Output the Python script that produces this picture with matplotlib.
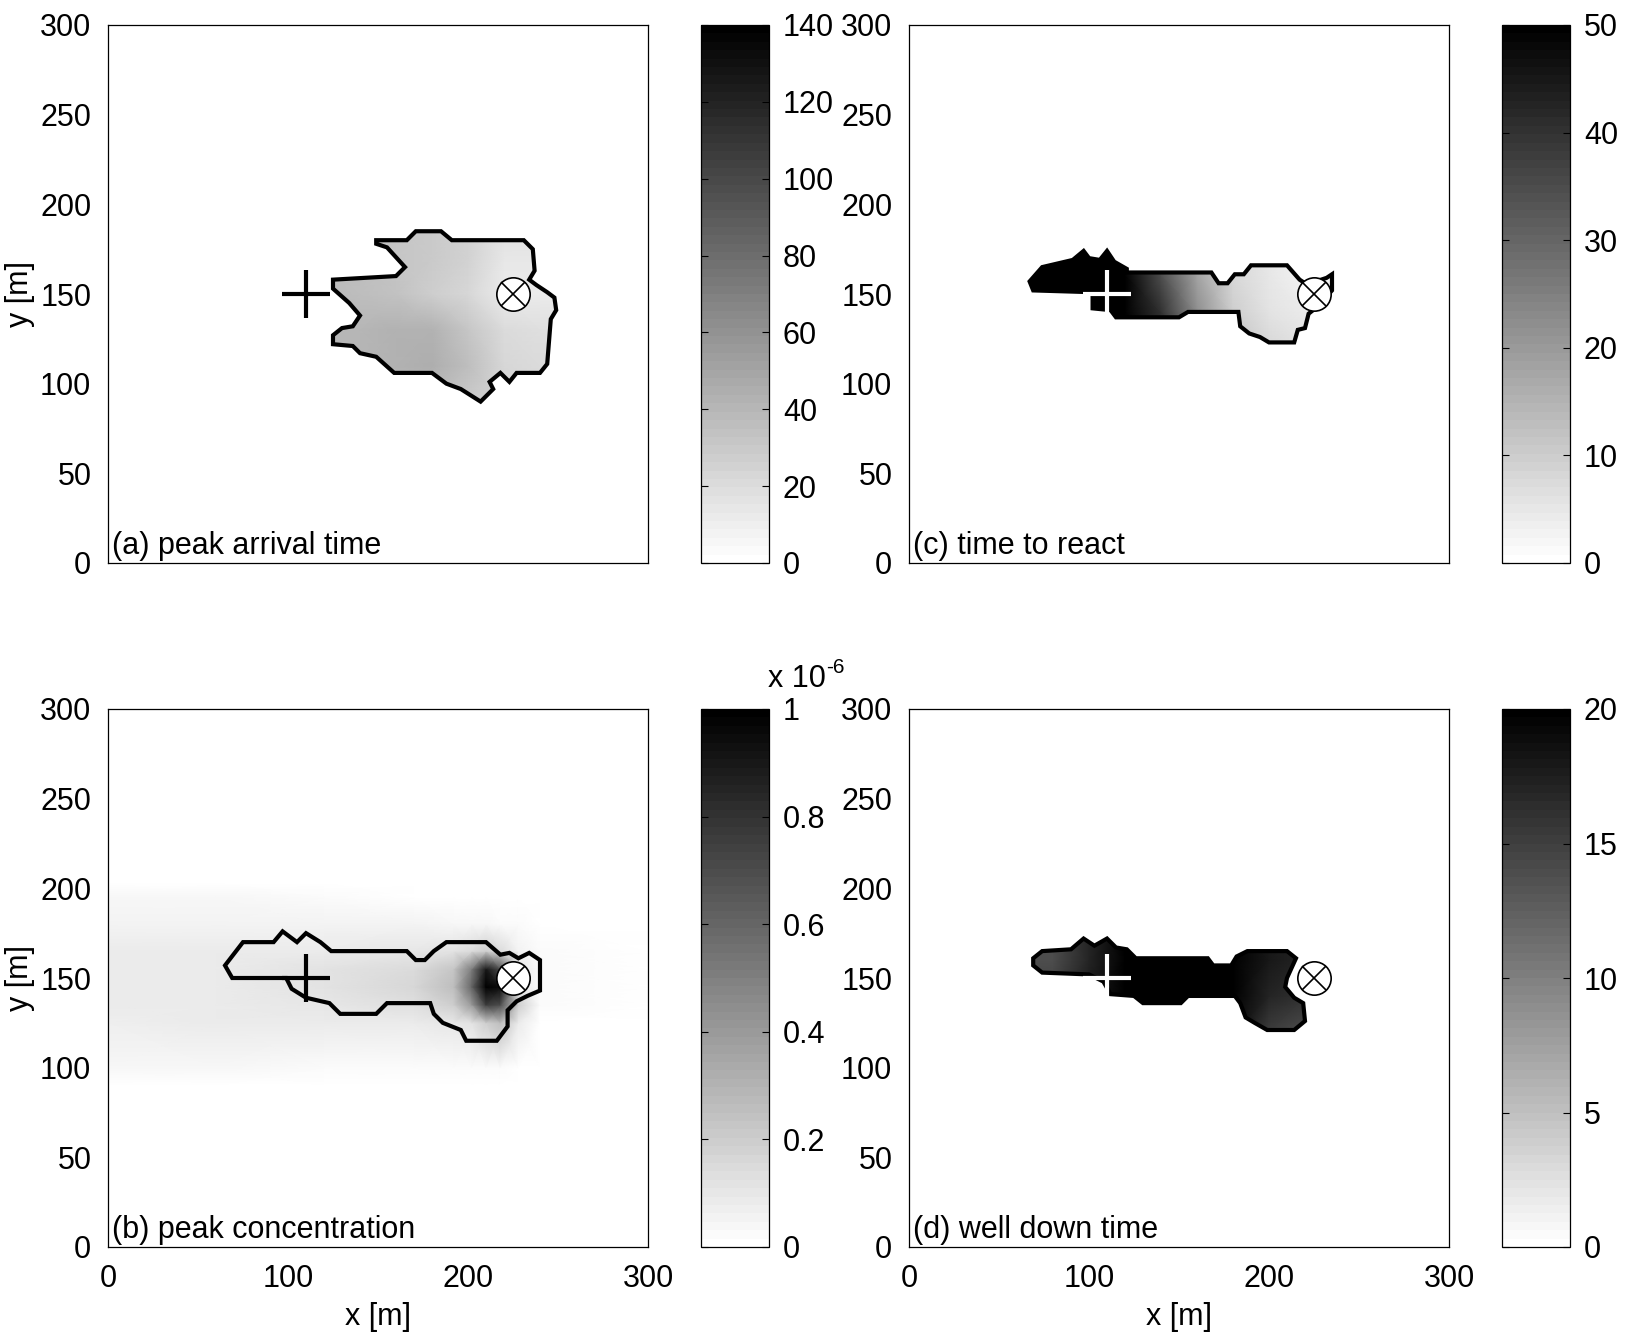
import matplotlib
matplotlib.use("Agg")
import matplotlib.pyplot as plt
import numpy as np
from matplotlib.patches import Polygon

plt.rcParams['font.family'] = ['Liberation Sans', 'DejaVu Sans']

# pumping well and monitoring point (m)
well_xy = (225, 150)
monitor_xy = (110, 150)

# ---- (a) peak arrival time ----
a_x = [120, 140, 160, 180, 200, 220, 240, 260]
a_y = [90, 110, 130, 150, 170, 190]
a_val = [
    [40, 40, 40, 35, 30, 25, 20, 20],
    [40, 40, 42, 45, 35, 22, 20, 20],
    [40, 40, 42, 42, 32, 20, 18, 18],
    [38, 36, 34, 28, 22, 12, 12, 12],
    [36, 35, 32, 30, 25, 15, 15, 15],
    [36, 35, 32, 30, 25, 18, 18, 18],
]
a_outline = [(149, 180), (166, 180), (171, 185), (185, 185), (191, 180), (231, 180),
             (236, 175), (237, 163), (234, 158), (238, 155), (244, 151), (248, 148),
             (249, 141), (246, 136), (244, 111), (240, 106), (227, 106), (223, 101),
             (218, 106), (212, 101), (214, 97), (207, 90), (196, 97), (188, 100),
             (180, 106), (159, 106), (149, 115), (140, 117), (136, 121), (125, 122),
             (125, 127), (130, 131), (136, 132), (140, 138), (134, 145), (125, 153),
             (125, 158), (160, 160), (165, 165), (155, 176), (149, 178)]

# ---- (b) peak concentration (x 1e-6) ----
b_x = [0, 60, 120, 170, 192, 202, 210, 218, 228, 240, 300]
b_y = [0, 90, 100, 125, 135, 145, 155, 165, 180, 195, 203, 300]
b_val = [
    [0, 0, 0, 0, 0, 0, 0, 0, 0, 0, 0],
    [0, 0, 0, 0, 0, 0, 0, 0, 0, 0, 0],
    [0.04, 0.04, 0.03, 0.02, 0.02, 0.02, 0.02, 0.02, 0.01, 0, 0],
    [0.07, 0.08, 0.08, 0.08, 0.10, 0.12, 0.20, 0.25, 0.08, 0.01, 0],
    [0.08, 0.09, 0.10, 0.14, 0.20, 0.40, 0.75, 0.70, 0.20, 0.02, 0],
    [0.08, 0.09, 0.11, 0.16, 0.25, 0.60, 1.00, 0.95, 0.10, 0.02, 0],
    [0.08, 0.09, 0.11, 0.15, 0.22, 0.50, 0.90, 0.70, 0.10, 0.02, 0],
    [0.08, 0.08, 0.09, 0.10, 0.12, 0.15, 0.20, 0.15, 0.05, 0.02, 0],
    [0.06, 0.06, 0.06, 0.05, 0.04, 0.04, 0.04, 0.03, 0.02, 0, 0],
    [0.04, 0.04, 0.03, 0.01, 0, 0, 0, 0, 0, 0, 0],
    [0, 0, 0, 0, 0, 0, 0, 0, 0, 0, 0],
    [0, 0, 0, 0, 0, 0, 0, 0, 0, 0, 0],
]
b_outline = [(65, 157), (75, 170), (92, 170), (97, 176), (105, 170), (110, 175),
             (118, 170), (124, 165), (166, 165), (171, 160), (176, 160), (181, 165),
             (188, 170), (210, 170), (218, 163), (223, 164), (228, 161), (234, 164),
             (240, 160), (240, 143), (233, 140), (227, 137), (222, 132), (222, 123),
             (216, 115), (199, 115), (196, 121), (186, 125), (181, 130), (179, 136),
             (155, 136), (149, 130), (129, 130), (123, 136), (110, 139), (102, 144),
             (99, 150), (69, 150)]

# ---- (c) time to react ----
c_x = [60, 80, 100, 120, 140, 160, 180, 200, 220, 240]
c_y = [120, 140, 160, 180]
c_val = [
    [60, 60, 60, 58, 45, 30, 12, 8, 6, 6],
    [60, 60, 60, 56, 40, 22, 10, 6, 4, 4],
    [60, 60, 60, 55, 35, 18, 8, 5, 3, 3],
    [60, 60, 60, 55, 35, 18, 8, 5, 3, 3],
]
c_outline = [(69, 152), (67, 157), (74, 165), (91, 169), (97, 174), (100, 170),
             (106, 169), (110, 174), (114, 168), (121, 164), (121, 162), (168, 162),
             (172, 156), (177, 156), (181, 161), (186, 161), (190, 166), (210, 166),
             (217, 158), (220, 156), (226, 157), (232, 159), (235, 161), (235, 152),
             (227, 143), (222, 139), (220, 131), (216, 130), (214, 123), (200, 123),
             (195, 126), (189, 128), (184, 132), (183, 140), (155, 140), (150, 137),
             (128, 137), (115, 137), (112, 141), (102, 142), (102, 151)]

# ---- (d) well down time ----
d_x = [60, 80, 100, 120, 140, 160, 180, 200, 220, 240]
d_y = [120, 140, 160, 180]
d_val = [
    [15, 15, 16, 22, 22, 22, 20, 15, 14, 14],
    [15, 15, 18, 22, 22, 22, 20, 17, 16, 16],
    [14, 14, 17, 22, 22, 22, 20, 18, 17, 17],
    [14, 14, 17, 22, 22, 22, 20, 18, 17, 17],
]
d_outline = [(69, 161), (74, 165), (90, 166), (97, 172), (103, 168), (110, 172),
             (115, 167), (121, 166), (126, 161), (166, 161), (169, 157), (179, 157),
             (182, 162), (188, 165), (210, 165), (215, 161), (210, 150), (209, 145),
             (214, 139), (219, 136), (220, 126), (214, 121), (199, 121), (192, 125),
             (187, 128), (184, 136), (181, 140), (155, 140), (151, 136), (130, 136),
             (125, 140), (112, 141), (108, 148), (100, 152), (74, 153), (69, 157)]

FS = 22
cmap = plt.get_cmap('gray_r', 64)

fig = plt.figure(figsize=(16.28, 13.37), dpi=100)

W, H = 1628.0, 1337.0
panels = [
    # label, x, y, values, outline, vmax, ticks, plus colour, clip, axes px (left, top)
    ('(a) peak arrival time', a_x, a_y, a_val, a_outline, 140, np.arange(0, 141, 20), 'k', True, 108, 25),
    ('(b) peak concentration', b_x, b_y, b_val, b_outline, 1, [0, 0.2, 0.4, 0.6, 0.8, 1], 'k', False, 108, 709),
    ('(c) time to react', c_x, c_y, c_val, c_outline, 50, np.arange(0, 51, 10), 'w', True, 909, 25),
    ('(d) well down time', d_x, d_y, d_val, d_outline, 20, np.arange(0, 21, 5), 'w', True, 909, 709),
]

for label, xs, ys, vals, outline, vmax, ticks, pcol, clip, left, top in panels:
    ax = fig.add_axes([left / W, 1 - (top + 538) / H, 540 / W, 538 / H])
    mesh = ax.pcolormesh(xs, ys, np.array(vals, dtype=float), shading='gouraud',
                         cmap=cmap, vmin=0, vmax=vmax)
    poly = Polygon(outline, closed=True, fill=False, edgecolor='k', lw=3, zorder=3)
    ax.add_patch(poly)
    if clip:
        mesh.set_clip_path(poly)
    ax.plot(*monitor_xy, marker='+', ms=35, mew=3, color=pcol, zorder=5)
    ax.plot(*well_xy, marker='o', ms=24, mfc='w', mec='k', mew=1.2, zorder=5)
    ax.plot(*well_xy, marker='x', ms=17, mew=1.2, color='k', zorder=6)
    ax.set_xlim(0, 300)
    ax.set_ylim(0, 300)
    ax.set_xticks([0, 100, 200, 300])
    ax.set_yticks(np.arange(0, 301, 50))
    ax.tick_params(length=0, labelsize=FS, pad=12)
    for s in ax.spines.values():
        s.set_linewidth(0.9)
    ax.text(2, 5, label, fontsize=FS, va='baseline', ha='left')
    if top > 100:
        ax.set_xlabel('x [m]', fontsize=FS, labelpad=6)
    else:
        ax.set_xticklabels([])
    if left < 200:
        ax.set_ylabel('y [m]', fontsize=FS, labelpad=4)

    cax = fig.add_axes([(left + 593) / W, 1 - (top + 538) / H, 68 / W, 538 / H])
    cb = fig.colorbar(mesh, cax=cax, ticks=ticks)
    cb.outline.set_linewidth(0.9)
    cax.tick_params(direction='in', left=True, right=True, length=5, width=0.8,
                    labelsize=FS, pad=10)
    if vmax == 1:
        cax.set_yticklabels(['0', '0.2', '0.4', '0.6', '0.8', '1'])
        fig.text(768 / W, 1 - 687 / H, 'x 10', fontsize=FS, va='baseline')
        fig.text(826 / W, 1 - 673 / H, '-6', fontsize=15, va='baseline')

fig.savefig('out.png', dpi=100)
